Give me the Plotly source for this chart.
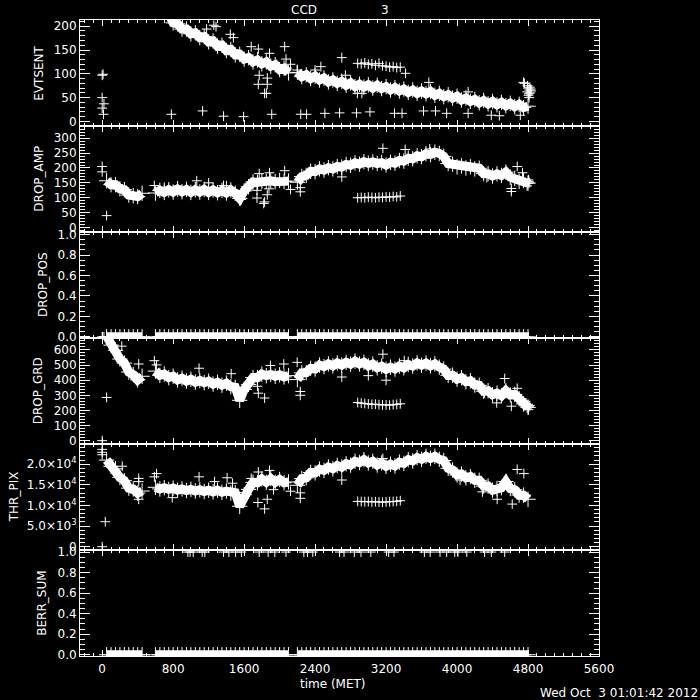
import plotly.graph_objects as go
from plotly.subplots import make_subplots

# ---------------- data ----------------
main_time = [
    50, 100, 150, 200, 250, 300, 350, 400, 450, 500,
    550, 600, 650, 700, 750, 800, 850, 900, 950, 1000,
    1050, 1100, 1150, 1200, 1250, 1300, 1350, 1400, 1450, 1500,
    1550, 1600, 1650, 1700, 1750, 1800, 1850, 1900, 1950, 2000,
    2050, 2100, 2150, 2200, 2250, 2300, 2350, 2400, 2450, 2500,
    2550, 2600, 2650, 2700, 2750, 2800, 2850, 2900, 2950, 3000,
    3050, 3100, 3150, 3200, 3250, 3300, 3350, 3400, 3450, 3500,
    3550, 3600, 3650, 3700, 3750, 3800, 3850, 3900, 3950, 4000,
    4050, 4100, 4150, 4200, 4250, 4300, 4350, 4400, 4450, 4500,
    4550, 4600, 4650, 4700, 4750, 4800]

evt_time = [
    700, 750, 800, 850, 900, 950, 1000,
    1050, 1100, 1150, 1200, 1250, 1300, 1350, 1400, 1450, 1500,
    1550, 1600, 1650, 1700, 1750, 1800, 1850, 1900, 1950, 2000,
    2050, 2100, 2150, 2200, 2250, 2300, 2350, 2400, 2450, 2500,
    2550, 2600, 2650, 2700, 2750, 2800, 2850, 2900, 2950, 3000,
    3050, 3100, 3150, 3200, 3250, 3300, 3350, 3400, 3450, 3500,
    3550, 3600, 3650, 3700, 3750, 3800, 3850, 3900, 3950, 4000,
    4050, 4100, 4150, 4200, 4250, 4300, 4350, 4400, 4450, 4500,
    4550, 4600, 4650, 4700, 4750, 4800]

evtsent = [
    232, 225, 207, 205, 194, 194, 184,
    186, 176, 178, 167, 169, 158, 160, 149, 151, 140,
    141, 131, 134, 125, 129, 121, 125, 116, 119, 109,
    112, 102, None, 103, 94, 98, 90, 95, 87, 91,
    83, 87, 80, 84, 76, 81, 73, 78, 72, 77,
    70, 76, 69, 73, 66, 71, 64, 68, 61, 66,
    59, 64, 58, 63, 55, 59, 52, 56, 49, 53,
    45, 49, 42, 46, 39, 44, 37, 42, 35, 40,
    33, 38, 31, 36, 29, 32]

drop_amp = [
    157, 144, 144, 130, 127, 109, 107, 104, 115, None,
    None, 116, 125, 118, 127, 119, 129, 120, 128, 118,
    127, 119, 128, 118, 126, 117, 125, 116, 126, 115,
    98, 123, 137, 153, 152, 155, 155, 157, 154, 158,
    155, 156, None, 152, 171, 175, 189, 188, 197, 193,
    201, 197, 205, 203, 212, 209, 217, 213, 221, 216,
    220, 215, 218, 210, 219, 216, 225, 223, 233, 231,
    241, 238, 248, 245, 253, 249, 239, 215, 213, 204,
    207, 200, 204, 197, 199, 181, 181, 173, 180, 175,
    186, 169, 165, 155, 158, 149]

drop_pos = [
    0, 0, 0, 0, 0, 0, 0, 0, 0, None,
    None, 0, 0, 0, 0, 0, 0, 0, 0, 0,
    0, 0, 0, 0, 0, 0, 0, 0, 0, 0,
    0, 0, 0, 0, 0, 0, 0, 0, 0, 0,
    0, 0, None, 0, 0, 0, 0, 0, 0, 0,
    0, 0, 0, 0, 0, 0, 0, 0, 0, 0,
    0, 0, 0, 0, 0, 0, 0, 0, 0, 0,
    0, 0, 0, 0, 0, 0, 0, 0, 0, 0,
    0, 0, 0, 0, 0, 0, 0, 0, 0, 0,
    0, 0, 0, 0, 0, 0]

drop_grd = [
    690, 632, 598, 540, 513, 454, 436, 402, 426, None,
    None, 460, 432, 440, 417, 426, 402, 413, 394, 406,
    387, 398, 384, 393, 374, 386, 367, 380, 357, 353,
    267, 338, 372, 418, 417, 440, 430, 438, 426, 436,
    422, 430, None, 404, 448, 450, 478, 474, 500, 490,
    508, 495, 514, 500, 518, 506, 526, 507, 518, 495,
    506, 482, 492, 472, 486, 474, 494, 482, 504, 494,
    514, 499, 513, 495, 508, 486, 473, 432, 433, 407,
    416, 390, 396, 368, 366, 327, 330, 304, 314, 297,
    330, 302, 306, 277, 243, 220]

thr_pix = [
    21000, 19500, 18900, 16800, 16000, 14200, 14000, 13000, 13500, None,
    None, 14400, 14000, 14300, 13900, 14200, 13700, 14000, 13600, 13900,
    13500, 13800, 13400, 13700, 13300, 13700, 13200, 13500, 13000, 13100,
    9800, 12600, 13900, 15600, 15500, 16400, 15600, 16500, 15600, 16300,
    15500, 15700, None, 14900, 16500, 16700, 18000, 17900, 18800, 18500,
    19300, 18900, 19700, 19300, 20100, 19800, 20700, 20400, 21100, 20300,
    20700, 19800, 20300, 19500, 20000, 19600, 20500, 20200, 21100, 20800,
    21600, 21200, 21900, 21400, 21900, 21200, 20900, 19000, 18600, 17400,
    17600, 16700, 17000, 16100, 16100, 14700, 14700, 13700, 14100, 14300,
    15800, 14100, 13800, 12500, 12500, 11500]

berr_sum = [
    0, 0, 0, 0, 0, 0, 0, 0, 0, None,
    None, 0, 0, 0, 0, 0, 0, 0, 0, 0,
    0, 0, 0, 0, 0, 0, 0, 0, 0, 0,
    0, 0, 0, 0, 0, 0, 0, 0, 0, 0,
    0, 0, None, 0, 0, 0, 0, 0, 0, 0,
    0, 0, 0, 0, 0, 0, 0, 0, 0, 0,
    0, 0, 0, 0, 0, 0, 0, 0, 0, 0,
    0, 0, 0, 0, 0, 0, 0, 0, 0, 0,
    0, 0, 0, 0, 0, 0, 0, 0, 0, 0,
    0, 0, 0, 0, 0, 0]

# secondary short run
sec_time = [2880, 2920, 2960, 3000, 3040, 3080, 3120, 3160, 3200, 3240, 3280, 3320, 3360]
sec_evtsent = [122, 121, 123, 120, 121, 118, 122, 117, 116, 114, 115, 113, 114]
sec_drop_amp = [100, 101, 100, 102, 101, 100, 102, 101, 103, 102, 104, 103, 106]
sec_drop_grd = [252, 248, 246, 243, 240, 241, 238, 236, 237, 235, 238, 240, 244]
sec_thr_pix = [11000, 10950, 10900, 10950, 10850, 10900, 10850, 10800, 10850, 10900, 10950, 11000, 11150]

# scattered individual points
evt_out_time = [0, 10, 0, 0, 20, 15, 780, 1132, 1368, 1594, 1911, 2238, 2304, 2510, 2676, 2867,
                3018, 3295, 3380, 3622, 3757, 3883, 4125, 4386, 4477, 4713,
                1177, 1258, 1283, 1444, 1479, 1680, 1760, 1886, 2057, 2072, 2123, 1770, 1861,
                1760, 1861, 1831, 1851, 2198, 2399, 2465, 2701, 2741, 3420, 3682, 4125, 4748,
                2877, 2927, 4790, 4800, 4810, 4815, 4820, 4825, 4830, 4835, 4805, 4795, 4812, 4760]
evt_out_val = [97, 99, 50, 28, 37, 15, 15, 22, 11, 10, 15, 15, 15, 17, 18, 18,
               20, 17, 17, 22, 22, 17, 17, 13, 12, 13,
               194, 202, 199, 183, 176, 157, 152, 143, 157, 131, 120, 97, 91,
               78, 78, 59, 59, 108, 108, 115, 134, 97, 101, 82, 62, 82,
               59, 59, 62, 70, 58, 66, 72, 60, 68, 64, 55, 75, 50, 80]

amp_out_time = [0, 0, 50, 588, 1066, 1368, 1569, 1745, 1821, 1831, 1861, 1770, 1886, 2057,
                2123, 2233, 2233, 2701, 3164, 3415, 3692, 4678, 4612, 4612, 4336, 4738,
                1745, 1880, 1400, 1200, 700, 850, 4800, 4810, 4790, 4820, 4805]
amp_out_val = [205, 187, 40, 141, 157, 141, 94, 99, 81, 86, 110, 181, 184, 191,
               128, 120, 134, 170, 266, 262, 264, 205, 131, 121, 168, 184,
               125, 130, 140, 150, 135, 140, 148, 155, 140, 150, 160]

pos_out_time = [0, 20]
pos_out_val = [0, 0]

grd_out_time = [0, 50, 221, 412, 588, 613, 1092, 1454, 1760, 1831, 1896, 2047, 2198, 2233,
                2233, 2701, 3164, 3405, 4311, 4447, 4537, 4612, 4678, 3000, 3200, 1750,
                4790, 4800, 4810, 4820, 4805]
grd_out_val = [0, 286, 625, 507, 529, 501, 479, 443, 314, 282, 497, 507, 518, 325,
               300, 421, 572, 529, 314, 250, 411, 228, 346, 430, 400, 360,
               215, 240, 225, 232, 205]

thr_out_time = [0, 0, 0, 35, 226, 412, 412, 412, 588, 613, 1092, 790, 1267, 1408, 1469, 1680,
                1760, 1886, 1755, 1831, 1861, 1931, 2123, 2233, 2233, 2701, 3164, 4034,
                4286, 4452, 4622, 4678, 4753, 0]
thr_out_val = [23600, 22900, 22300, 6060, 19510, 16560, 15780, 11500, 16940, 17720, 16940, 11890,
               15780, 16710, 15390, 16560, 18110, 18500, 10720, 9170, 11500, 13830, 13450, 13060,
               11730, 16170, 21380, 16170, 13290, 11500, 10330, 18730, 17720, 0]

berr_one_time = [966, 991, 1026, 1127, 1157, 1368, 1428, 1504, 1569, 1770, 1871, 1946, 2072,
                 2273, 2314, 2374, 2676, 2726, 2842, 2917, 3028, 3229, 3289, 3632, 3697, 3808,
                 3883, 3974, 4010, 4110, 4311, 4386, 4537]
berr_one_val = [1, 1, 1, 1, 1, 1, 1, 1, 1, 1, 1, 1, 1, 1, 1, 1, 1, 1, 1, 1, 1, 1, 1, 1, 1, 1,
                1, 1, 1, 1, 1, 1, 1]

panel_names = ["EVTSENT", "DROP_AMP", "DROP_POS", "DROP_GRD", "THR_PIX", "BERR_SUM"]
x_tick_vals = [0, 800, 1600, 2400, 3200, 4000, 4800, 5600]
thr_tick_vals = [0, 5000, 10000, 15000, 20000]
thr_tick_text = ["0", "5.0×10<sup>3</sup>", "1.0×10<sup>4</sup>", "1.5×10<sup>4</sup>",
                 "2.0×10<sup>4</sup>"]

# ---------------- figure ----------------
W = "white"
FONT = dict(family="DejaVu Sans", size=12, color=W)

fig = make_subplots(rows=6, cols=1, shared_xaxes=True, vertical_spacing=0)

main_sets = [
    (evt_time, evtsent, sec_time, sec_evtsent, evt_out_time, evt_out_val),
    (main_time, drop_amp, sec_time, sec_drop_amp, amp_out_time, amp_out_val),
    (main_time, drop_pos, None, None, pos_out_time, pos_out_val),
    (main_time, drop_grd, sec_time, sec_drop_grd, grd_out_time, grd_out_val),
    (main_time, thr_pix, sec_time, sec_thr_pix, thr_out_time, thr_out_val),
    (main_time, berr_sum, None, None, berr_one_time, berr_one_val),
]

band_marker = dict(symbol="cross-thin", size=11, line=dict(width=1, color=W), color=W)
pt_marker = dict(symbol="cross-thin", size=7, line=dict(width=1, color=W), color=W)

for i, (tx, ty, sx, sy, ox, oy) in enumerate(main_sets, start=1):
    fig.add_trace(go.Scatter(x=tx, y=ty, mode="lines+markers", connectgaps=False,
                             line=dict(color=W, width=9), marker=band_marker,
                             hoverinfo="skip"), row=i, col=1)
    if sx is not None:
        fig.add_trace(go.Scatter(x=sx, y=sy, mode="markers", marker=pt_marker,
                                 hoverinfo="skip"), row=i, col=1)
    fig.add_trace(go.Scatter(x=ox, y=oy, mode="markers", marker=pt_marker,
                             hoverinfo="skip"), row=i, col=1)

y_specs = [
    dict(range=[-9.6, 213], tickmode="linear", tick0=0, dtick=50, minor_dtick=10),
    dict(range=[-15, 341], tickmode="linear", tick0=0, dtick=50, minor_dtick=10),
    dict(range=[-0.012, 1.025], tickmode="linear", tick0=0, dtick=0.2, minor_dtick=0.05,
         tickformat=".1f"),
    dict(range=[-22, 679], tickmode="linear", tick0=0, dtick=100, minor_dtick=20),
    dict(range=[-800, 24900], tickmode="array", tickvals=thr_tick_vals,
         ticktext=thr_tick_text, minor_dtick=1000),
    dict(range=[-0.012, 1.02], tickmode="linear", tick0=0, dtick=0.2, minor_dtick=0.05,
         tickformat=".1f"),
]

for i, spec in enumerate(y_specs, start=1):
    spec = dict(spec)
    mdt = spec.pop("minor_dtick")
    fig.update_yaxes(
        row=i, col=1, **spec,
        showgrid=False, zeroline=False, showline=True, linecolor=W, linewidth=1,
        mirror="allticks", ticks="inside", ticklen=10, tickwidth=1, tickcolor=W,
        tickfont=FONT,
        minor=dict(tickmode="linear", tick0=0, dtick=mdt, ticks="inside", ticklen=5,
                   tickcolor=W, tickwidth=1, showgrid=False),
    )
    fig.update_xaxes(
        row=i, col=1,
        range=[-250, 5600], tickmode="array", tickvals=x_tick_vals,
        showgrid=False, zeroline=False, showline=True, linecolor=W, linewidth=1,
        mirror="allticks", ticks="inside", ticklen=6, tickwidth=1, tickcolor=W,
        tickfont=FONT, showticklabels=(i == 6), ticklabelstandoff=2,
        minor=dict(tickmode="linear", tick0=0, dtick=100, ticks="inside", ticklen=3,
                   tickcolor=W, tickwidth=1, showgrid=False),
    )

# axis titles as annotations (positions in paper coordinates)
title_px = [38.7, 38.7, 43.0, 38.3, 14.3, 41.7]
L, R, T, B = 80, 101, 20, 44
PW = 700 - L - R
PH = 700 - T - B
annotations = []
for i, (name, px) in enumerate(zip(panel_names, title_px)):
    annotations.append(dict(text=name, x=(px - L) / PW, y=1 - (i + 0.5) / 6,
                            xref="paper", yref="paper", showarrow=False, textangle=-90,
                            xanchor="center", yanchor="middle", font=FONT))
annotations.append(dict(text="CCD", x=(304 - L) / PW, y=(T - 10) / PH + 1, xref="paper",
                        yref="paper", showarrow=False, xanchor="center", yanchor="middle",
                        font=FONT))
annotations.append(dict(text="3", x=(385 - L) / PW, y=(T - 10) / PH + 1, xref="paper",
                        yref="paper", showarrow=False, xanchor="center", yanchor="middle",
                        font=FONT))
annotations.append(dict(text="time (MET)", x=(333 - L) / PW, y=(656 - 684) / PH,
                        xref="paper", yref="paper", showarrow=False, xanchor="center",
                        yanchor="middle", font=FONT))
annotations.append(dict(text="Wed Oct\u00a0\u00a03 01:01:42 2012", x=(700 - L) / PW,
                        y=(656 - 693) / PH, xref="paper", yref="paper", showarrow=False,
                        xanchor="right", yanchor="middle", font=FONT))

fig.update_layout(
    width=700, height=700, autosize=False,
    margin=dict(l=L, r=R, t=T, b=B),
    paper_bgcolor="black", plot_bgcolor="black",
    showlegend=False, annotations=annotations,
    font=FONT,
)

fig.write_html(
    "out.html",
    config={"displayModeBar": False},
    post_script="document.body.style.margin='0';document.body.style.background='black';"
                "document.documentElement.style.overflow='hidden';",
)
